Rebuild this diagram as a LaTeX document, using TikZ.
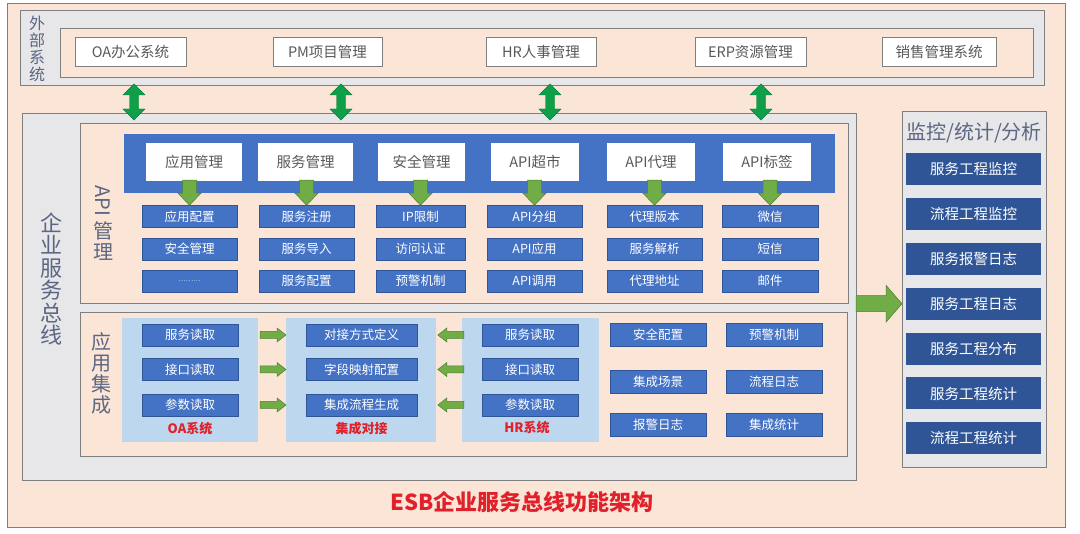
\documentclass[tikz,border=0pt]{standalone}
\usepackage{fontspec}
\setmainfont{Noto Sans CJK SC}
\usepackage{graphicx}
\definecolor{peach}{HTML}{FBE5D6}
\definecolor{panelgray}{HTML}{E7E6E8}
\definecolor{frame}{HTML}{7F7F7F}
\definecolor{boxblue}{HTML}{4472C4}
\definecolor{boxedge}{HTML}{2F5597}
\definecolor{monblue}{HTML}{2F5597}
\definecolor{lightblue}{HTML}{BDD7EE}
\definecolor{slate}{HTML}{5B6783}
\definecolor{txtgray}{HTML}{595959}
\definecolor{agreen}{HTML}{70AD47}
\definecolor{agreendk}{HTML}{507E32}
\definecolor{dgreen}{HTML}{0E9F48}
\definecolor{titlered}{HTML}{E0202A}
\begin{document}
\begin{tikzpicture}[x=1pt,y=-1pt,
  frm/.style={draw=frame, line width=0.8pt, inner sep=0pt, anchor=north west},
  wbox/.style={draw=frame, line width=0.8pt, fill=white, text=txtgray, inner sep=0pt, font=\fontsize{14.5}{15}\selectfont},
  sbox/.style={draw=boxedge, line width=0.6pt, fill=boxblue, text=white, inner sep=0pt, minimum height=22pt, font=\fontsize{12.5}{13}\selectfont},
  mbox/.style={fill=monblue, text=white, inner sep=0pt, minimum width=135pt, minimum height=32pt, font=\fontsize{14.5}{15}\selectfont},
  vlabel/.style={text=slate, align=center, inner sep=0pt},
  redlabel/.style={text=titlered, font=\fontsize{13}{14}\selectfont\bfseries, inner sep=0pt},
  pics/downarr/.style={code={\filldraw[fill=agreen, draw=agreendk, line width=0.5pt]
     (0,0) -- (-11.5,-12) -- (-7,-12) -- (-7,-25) -- (7,-25) -- (7,-12) -- (11.5,-12) -- cycle;}},
  pics/rightarr/.style={code={\filldraw[fill=agreen, draw=agreendk, line width=0.5pt]
     (0,0) -- (-9,-7) -- (-9,-3.5) -- (-26,-3.5) -- (-26,3.5) -- (-9,3.5) -- (-9,7) -- cycle;}},
  pics/bigarr/.style={code={\filldraw[fill=agreen, draw=agreendk, line width=0.5pt]
     (0,0) -- (-16,-18.5) -- (-16,-8) -- (-46,-8) -- (-46,8) -- (-16,8) -- (-16,18.5) -- cycle;}},
  pics/dblarr/.style={code={\filldraw[fill=dgreen, draw=dgreen!80!black, line width=0.4pt]
     (0,-18) -- (11,-7) -- (4.5,-7) -- (4.5,7) -- (11,7) -- (0,18) -- (-11,7) -- (-4.5,7) -- (-4.5,-7) -- (-11,-7) -- cycle;}}
]
\useasboundingbox[fill=white] (0,0) rectangle (1080,534);

% outer panel
\node[frm, fill=peach, minimum width=1058pt, minimum height=524pt] (outer) at (7,3) {};

% external systems
\node[frm, fill=panelgray, minimum width=1024pt, minimum height=75pt] (ext) at (20,10) {};
\node[frm, fill=peach, minimum width=973pt, minimum height=49pt] (extin) at (60,28) {};
\node[vlabel, font=\fontsize{16}{17}\selectfont] (extlbl) at (37,49) {外\\部\\系\\统};
\node[wbox, minimum width=111pt, minimum height=29pt] (e1) at (130.5,51.5) {OA办公系统};
\node[wbox, minimum width=109pt, minimum height=29pt] (e2) at (327.5,51.5) {PM项目管理};
\node[wbox, minimum width=110pt, minimum height=29pt] (e3) at (541,51.5) {HR人事管理};
\node[wbox, minimum width=111pt, minimum height=29pt] (e4) at (750.5,51.5) {ERP资源管理};
\node[wbox, minimum width=114pt, minimum height=29pt] (e5) at (939,51.5) {销售管理系统};

% ESB
\node[frm, fill=panelgray, minimum width=834pt, minimum height=367pt] (esb) at (22,113) {};
\node[vlabel, font=\fontsize{22}{22.5}\selectfont] (esblbl) at (51,279) {企\\业\\服\\务\\总\\线};

% double arrows
\coordinate (d1) at (134,102);
\coordinate (d2) at (341,102);
\coordinate (d3) at (550,102);
\coordinate (d4) at (761,102);
\foreach \d in {d1,d2,d3,d4} \pic at (\d) {dblarr};

% API management
\node[frm, fill=peach, minimum width=768pt, minimum height=180pt] (api) at (80,123) {};
\node[vlabel, font=\fontsize{20}{21}\selectfont] (apilbl) at (103,223) {\rotatebox[origin=c]{-90}{API}\\[4pt]管\\理};
\node[frm, fill=boxblue, draw=none, minimum width=711pt, minimum height=59pt] (banner) at (124,134) {};
\node[wbox, draw=none, minimum width=96pt, minimum height=38pt] (w1) at (194,162) {应用管理};
\node[wbox, draw=none, minimum width=95pt, minimum height=38pt] (w2) at (305.5,162) {服务管理};
\node[wbox, draw=none, minimum width=87pt, minimum height=38pt] (w3) at (421.5,162) {安全管理};
\node[wbox, draw=none, minimum width=88pt, minimum height=38pt] (w4) at (535,162) {API超市};
\node[wbox, draw=none, minimum width=88pt, minimum height=38pt] (w5) at (651,162) {API代理};
\node[wbox, draw=none, minimum width=88pt, minimum height=38pt] (w6) at (767,162) {API标签};

\node[sbox, minimum width=95pt] (s11) at (189.5,216.5) {应用配置};
\node[sbox, minimum width=95pt] (s12) at (189.5,249) {安全管理};
\node[sbox, minimum width=95pt, font=\fontsize{7}{8}\selectfont] (s13) at (189.5,281) {………};
\node[sbox, minimum width=95pt] (s21) at (306.5,216.5) {服务注册};
\node[sbox, minimum width=95pt] (s22) at (306.5,249) {服务导入};
\node[sbox, minimum width=95pt] (s23) at (306.5,281) {服务配置};
\node[sbox, minimum width=89pt] (s31) at (420.5,216.5) {IP限制};
\node[sbox, minimum width=89pt] (s32) at (420.5,249) {访问认证};
\node[sbox, minimum width=89pt] (s33) at (420.5,281) {预警机制};
\node[sbox, minimum width=95pt] (s41) at (534.5,216.5) {API分组};
\node[sbox, minimum width=95pt] (s42) at (534.5,249) {API应用};
\node[sbox, minimum width=95pt] (s43) at (534.5,281) {API调用};
\node[sbox, minimum width=95pt] (s51) at (654.5,216.5) {代理版本};
\node[sbox, minimum width=95pt] (s52) at (654.5,249) {服务解析};
\node[sbox, minimum width=95pt] (s53) at (654.5,281) {代理地址};
\node[sbox, minimum width=96pt] (s61) at (770,216.5) {微信};
\node[sbox, minimum width=96pt] (s62) at (770,249) {短信};
\node[sbox, minimum width=96pt] (s63) at (770,281) {邮件};
\foreach \s in {s11,s21,s31,s41,s51,s61} \pic at (\s.north) {downarr};

% application integration
\node[frm, fill=peach, minimum width=767pt, minimum height=144pt] (integ) at (80,312) {};
\node[vlabel, font=\fontsize{20}{21}\selectfont] (integlbl) at (101,373) {应\\用\\集\\成};
\node[frm, draw=none, fill=lightblue, minimum width=136pt, minimum height=124pt] (poa) at (122,318) {};
\node[frm, draw=none, fill=lightblue, minimum width=150pt, minimum height=124pt] (pjc) at (286,318) {};
\node[frm, draw=none, fill=lightblue, minimum width=137pt, minimum height=124pt] (phr) at (462,318) {};

\node[sbox, minimum width=96pt] (o1) at (190,335) {服务读取};
\node[sbox, minimum width=96pt] (o2) at (190,369.5) {接口读取};
\node[sbox, minimum width=96pt] (o3) at (190,405) {参数读取};
\node[sbox, minimum width=111pt] (j1) at (361.5,335) {对接方式定义};
\node[sbox, minimum width=111pt] (j2) at (361.5,369.5) {字段映射配置};
\node[sbox, minimum width=111pt] (j3) at (361.5,405) {集成流程生成};
\node[sbox, minimum width=96pt] (h1) at (530,335) {服务读取};
\node[sbox, minimum width=96pt] (h2) at (530,369.5) {接口读取};
\node[sbox, minimum width=96pt] (h3) at (530,405) {参数读取};
\node[redlabel] (loa) at (190,429) {OA系统};
\node[redlabel] (ljc) at (361.5,429) {集成对接};
\node[redlabel] (lhr) at (527,428) {HR系统};

\foreach \r in {1,2,3} {
  \coordinate (ra\r) at (pjc.west |- j\r.center);
  \coordinate (la\r) at ([xshift=1pt]pjc.east |- j\r.center);
  \pic at (ra\r) {rightarr};
  \pic[xscale=-1] at (la\r) {rightarr};
}

\node[sbox, minimum width=96pt, minimum height=23pt] (x1) at (658,335) {安全配置};
\node[sbox, minimum width=96pt, minimum height=23pt] (x2) at (774,335) {预警机制};
\node[sbox, minimum width=96pt, minimum height=23pt] (x3) at (658,382) {集成场景};
\node[sbox, minimum width=96pt, minimum height=23pt] (x4) at (774,382) {流程日志};
\node[sbox, minimum width=96pt, minimum height=23pt] (x5) at (658,424.5) {报警日志};
\node[sbox, minimum width=96pt, minimum height=23pt] (x6) at (774,424.5) {集成统计};

% monitoring
\node[frm, fill=panelgray, minimum width=144pt, minimum height=356pt] (mon) at (902,111) {};
\node[text=slate, inner sep=0pt, font=\fontsize{20}{21}\selectfont] (montitle) at (974,133) {监控/统计/分析};
\foreach \t [count=\i from 0] in {服务工程监控,流程工程监控,服务报警日志,服务工程日志,服务工程分布,服务工程统计,流程工程统计}
  \node[mbox] (m\i) at (973.5,{169+44.9*\i}) {\t};

\coordinate (bigtip) at (mon.west |- m3.center);
\pic at (bigtip) {bigarr};

% title
\node[text=titlered, inner sep=0pt, font=\fontsize{22}{23}\selectfont\bfseries] (title) at (522,502) {ESB企业服务总线功能架构};
\end{tikzpicture}
\end{document}
